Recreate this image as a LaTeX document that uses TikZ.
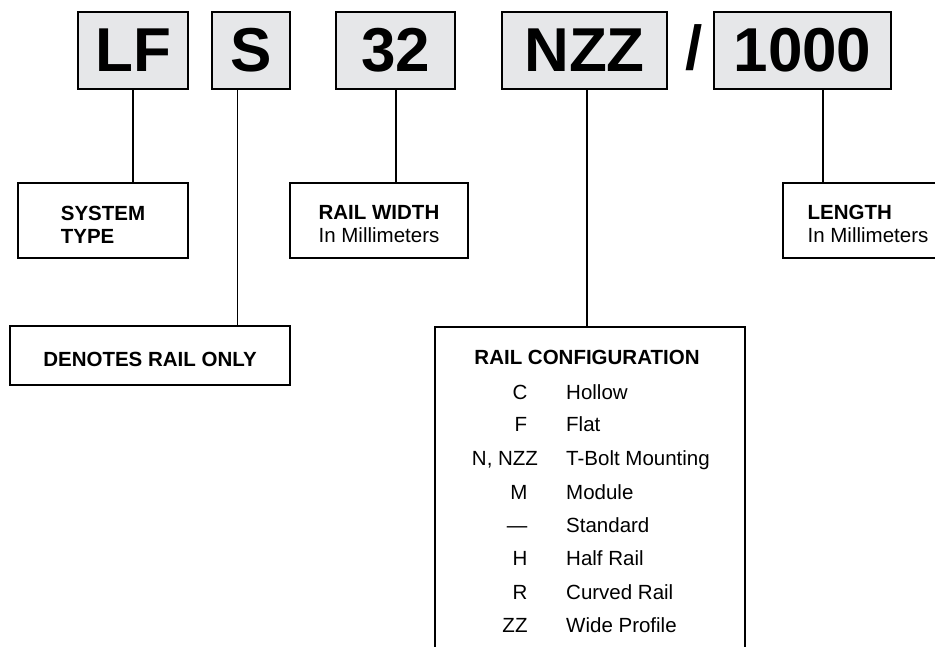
\documentclass[tikz,border=0pt]{standalone}
\usepackage{fontspec}
\setmainfont{Liberation Sans}
\usetikzlibrary{positioning}
\definecolor{codegray}{HTML}{E6E7E9}

\begin{document}
\begin{tikzpicture}[x=1pt,y=-1pt,
  codebox/.style={draw,line width=1.6pt,fill=codegray,inner sep=0pt,minimum height=77pt,
    font=\fontsize{62}{62}\selectfont\bfseries},
  infobox/.style={draw,line width=1.6pt,inner sep=0pt,align=left,
    font=\fontsize{20.5}{23}\selectfont},
  stem/.style={line width=1.6pt},
  cfgtext/.style={anchor=base,inner sep=0pt,font=\fontsize{20.5}{23}\selectfont}]
  \clip (0,0) rectangle (935,646);
  % part number fields
  \node[codebox,minimum width=110pt] (lf) at (133,50.5) {LF};
  \node[codebox,minimum width=78pt] (s) at (251,50.5) {S};
  \node[codebox,minimum width=119pt] (w32) at (395.5,50.5) {32};
  \node[codebox,minimum width=165pt] (nzz) at (584.5,50.5) {NZZ};
  \node[anchor=base,inner sep=0pt,font=\fontsize{62}{62}\selectfont\bfseries] (slash) at (694,69) {/};
  \node[codebox,minimum width=177pt] (len) at (802.5,50.5) {1000};
  % explanations
  \node[infobox,minimum width=170pt,minimum height=75pt,font=\fontsize{20.5}{23}\selectfont\bfseries] (systype) at (103,220.5) {\rule{0pt}{22pt}SYSTEM\\TYPE};
  \node[infobox,minimum width=178pt,minimum height=75pt] (width) at (379,220.5) {\rule{0pt}{22pt}\textbf{RAIL WIDTH}\\In Millimeters};
  \node[infobox,minimum width=170pt,minimum height=75pt] (length) at (868,220.5) {\rule{0pt}{22pt}\textbf{LENGTH}\\In Millimeters};
  \node[infobox,minimum width=280pt,minimum height=59pt,font=\fontsize{20.5}{23}\selectfont\bfseries] (denote) at (150,355.5) {\rule{0pt}{22pt}DENOTES RAIL ONLY};
  \node[draw,line width=1.6pt,minimum width=310pt,minimum height=340pt,anchor=north] (cfg) at (590,326) {};
  % rail configuration list
  \node[cfgtext,font=\fontsize{20.5}{23}\selectfont\bfseries] (cfgtitle) at (587,364) {RAIL CONFIGURATION};
  \foreach \y/\cx/\code/\desc [count=\i] in {392/520/C/Hollow, 424/521/F/Flat, 458/505/{N, NZZ}/T-Bolt Mounting,
      491.7/519/M/Module, 525/517/—/Standard, 558/520/H/Half Rail, 591.7/520/R/Curved Rail, 625/515/ZZ/Wide Profile}{
    \node[cfgtext] (cfgcode\i) at (\cx,\y+7.3) {\code};
    \node[cfgtext,anchor=base west] (cfgdesc\i) at (566,\y+7.3) {\desc};
  }
  % leaders
  \draw[stem] (lf.south) -- (lf.south |- systype.north);
  \draw[stem] ([xshift=-13.5pt]s.south) -- ([xshift=-13.5pt]s.south |- denote.north);
  \draw[stem] ([xshift=0.5pt]w32.south) -- ([xshift=0.5pt]w32.south |- width.north);
  \draw[stem] ([xshift=2.5pt]nzz.south) -- ([xshift=2.5pt]nzz.south |- cfg.north);
  \draw[stem] ([xshift=20.5pt]len.south) -- ([xshift=20.5pt]len.south |- length.north);
\end{tikzpicture}
\end{document}
